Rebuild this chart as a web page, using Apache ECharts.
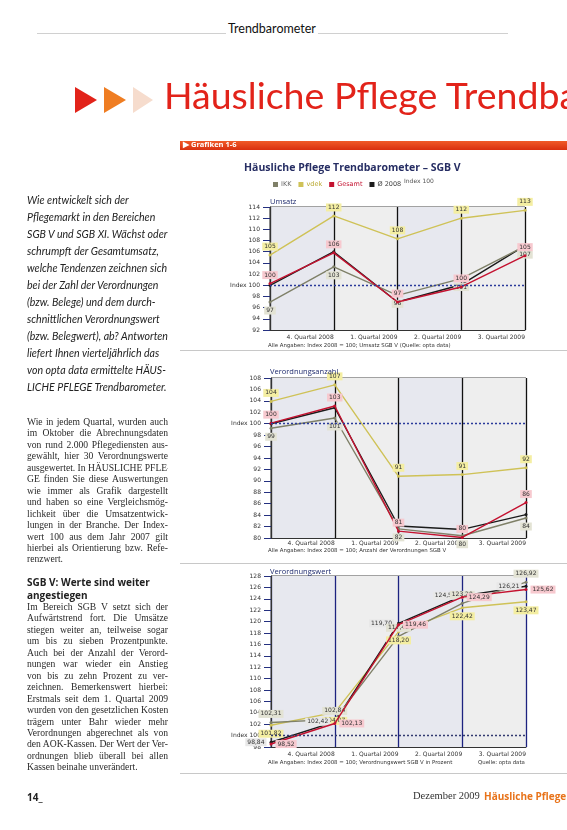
<!DOCTYPE html>
<html><head><meta charset="utf-8">
<script src="https://cdn.jsdelivr.net/npm/echarts/dist/echarts.min.js"></script>
<style>
html,body{margin:0;padding:0;background:#fff;}
#page{position:relative;width:567px;height:830px;overflow:hidden;background:#fff;}
#chart{position:absolute;left:0;top:0;width:567px;height:830px;z-index:1;}
.t{position:absolute;z-index:2;white-space:nowrap;}
.intro{position:absolute;z-index:2;left:27px;top:192px;font-family:Lato,'Open Sans',sans-serif;font-style:italic;font-size:10.6px;line-height:17px;color:#222;}
.body{position:absolute;z-index:2;left:27px;width:141px;font-family:'Liberation Serif','DejaVu Serif',serif;font-size:9.6px;line-height:11.45px;color:#2a2a2a;}
.body div{text-align:justify;text-align-last:justify;white-space:nowrap;overflow:hidden;}
.body div.last{text-align-last:left;}
.head{position:absolute;z-index:2;left:27px;top:576px;font-family:'Open Sans',sans-serif;font-weight:700;font-size:10px;line-height:12.5px;color:#222;}
.tri{position:absolute;z-index:2;width:0;height:0;border-top:13px solid transparent;border-bottom:13px solid transparent;}
.note{position:absolute;z-index:2;font-family:'DejaVu Sans',sans-serif;font-size:5.4px;color:#333;white-space:nowrap;}
.sub{position:absolute;z-index:2;font-family:'Open Sans',sans-serif;font-size:7.5px;color:#1f2b6e;white-space:nowrap;}
.sep{position:absolute;z-index:2;left:180px;width:387px;height:1px;background:#c8c8c8;}
</style></head>
<body>
<div id="page">
  <div id="chart"></div>

  <div class="t" style="left:37px;top:33px;width:471px;height:1px;background:#d0d0d0;"></div>
  <div class="t" style="left:226px;top:21px;font-family:Lato,sans-serif;font-size:12.5px;color:#111;background:#fff;padding:0 2px;">Trendbarometer</div>

  <div class="tri" style="left:75px;top:87px;border-left:22px solid #e2231a;"></div>
  <div class="tri" style="left:104px;top:87px;border-left:22px solid #ef7d22;"></div>
  <div class="tri" style="left:133px;top:87px;border-left:20px solid #f6dccd;"></div>
  <div class="t" style="left:164px;top:72px;font-family:Lato,sans-serif;font-size:37.5px;color:#e2231a;">Häusliche Pflege Trendbarometer</div>

  <div class="intro">Wie entwickelt sich der<br>Pflegemarkt in den Bereichen<br>SGB V und SGB XI. Wächst oder<br>schrumpft der Gesamtumsatz,<br>welche Tendenzen zeichnen sich<br>bei der Zahl der Verordnungen<br>(bzw. Belege) und dem durch-<br>schnittlichen Verordnungswert<br>(bzw. Belegwert), ab? Antworten<br>liefert Ihnen vierteljährlich das<br>von opta data ermittelte HÄUS-<br>LICHE PFLEGE Trendbarometer.</div>

  <div class="body" style="top:416px;">
    <div>Wie in jedem Quartal, wurden auch</div>
    <div>im Oktober die Abrechnungsdaten</div>
    <div>von rund 2.000 Pflegediensten aus-</div>
    <div>gewählt, hier 30 Verordnungswerte</div>
    <div>ausgewertet. In HÄUSLICHE PFLE-</div>
    <div>GE finden Sie diese Auswertungen</div>
    <div>wie immer als Grafik dargestellt</div>
    <div>und haben so eine Vergleichsmög-</div>
    <div>lichkeit über die Umsatzentwick-</div>
    <div>lungen in der Branche. Der Index-</div>
    <div>wert 100 aus dem Jahr 2007 gilt</div>
    <div>hierbei als Orientierung bzw. Refe-</div>
    <div class="last">renzwert.</div>
  </div>

  <div class="head">SGB V: Werte sind weiter<br>angestiegen</div>

  <div class="body" style="top:601px;">
    <div>Im Bereich SGB V setzt sich der</div>
    <div>Aufwärtstrend fort. Die Umsätze</div>
    <div>stiegen weiter an, teilweise sogar</div>
    <div>um bis zu sieben Prozentpunkte.</div>
    <div>Auch bei der Anzahl der Verord-</div>
    <div>nungen war wieder ein Anstieg</div>
    <div>von bis zu zehn Prozent zu ver-</div>
    <div>zeichnen. Bemerkenswert hierbei:</div>
    <div>Erstmals seit dem 1. Quartal 2009</div>
    <div>wurden von den gesetzlichen Kosten-</div>
    <div>trägern unter Bahr wieder mehr</div>
    <div>Verordnungen abgerechnet als von</div>
    <div>den AOK-Kassen. Der Wert der Ver-</div>
    <div>ordnungen blieb überall bei allen</div>
    <div class="last">Kassen beinahe unverändert.</div>
  </div>

  <div class="t" style="left:27px;top:790px;font-family:'Open Sans',sans-serif;font-weight:700;font-size:10px;color:#222;">14_</div>
  <div class="t" style="left:413px;top:790px;font-family:'Liberation Serif',serif;font-size:10.5px;color:#333;">Dezember 2009</div>
  <div class="t" style="left:484px;top:789px;font-family:'Open Sans',sans-serif;font-weight:700;font-size:10px;color:#e8731a;">Häusliche Pflege</div>

  <!-- chart panel -->
  <div class="t" style="left:180px;top:141px;width:387px;height:9px;background:linear-gradient(#f05a28,#d9300f);"></div>
  <div class="t" style="left:183px;top:139px;font-family:'Open Sans',sans-serif;font-weight:700;font-size:7.5px;color:#fff;">▶ Grafiken 1-6</div>
  <div class="t" style="left:244px;top:160px;font-family:'Open Sans',sans-serif;font-weight:700;font-size:10.5px;color:#262d63;">Häusliche Pflege Trendbarometer – SGB V</div>
  <div class="note" style="left:404px;top:177px;font-size:6px;color:#555;">Index 100</div>

  <div class="sub" style="left:270px;top:196px;">Umsatz</div>
  <div class="note" style="left:268px;top:342px;">Alle Angaben: Index 2008 = 100; Umsatz SGB V (Quelle: opta data)</div>
  <div class="sep" style="top:350px;"></div>

  <div class="sub" style="left:270px;top:366px;">Verordnungsanzahl</div>
  <div class="note" style="left:268px;top:547px;">Alle Angaben: Index 2008 = 100; Anzahl der Verordnungen SGB V</div>
  <div class="sep" style="top:563px;"></div>

  <div class="sub" style="left:270px;top:566px;">Verordnungswert</div>
  <div class="note" style="left:268px;top:759px;">Alle Angaben: Index 2008 = 100; Verordnungswert SGB V in Prozent</div>
  <div class="note" style="left:478px;top:759px;">Quelle: opta data</div>
  <div class="sep" style="top:773px;"></div>
</div>

<script>
// categories
const quarters = ['', '4. Quartal 2008', '1. Quartal 2009', '2. Quartal 2009', '3. Quartal 2009'];
const seriesNames = ['IKK', 'vdek', 'Gesamt', 'Ø 2008'];

// Umsatz (Index 2008 = 100)
const umsatzIKK    = [97.0, 103.3, 98.2, 101.2, 107.0];
const umsatzVdek   = [105.4, 112.4, 108.3, 112.0, 113.4];
const umsatzGesamt = [100.3, 105.8, 97.0, 99.7, 105.3];
const umsatzOe     = [100.0, 106.0, 97.0, 100.1, 107.1];

// Verordnungsanzahl
const anzahlIKK    = [99.2, 101.0, 81.6, 80.4, 83.5];
const anzahlVdek   = [103.9, 106.8, 90.8, 91.1, 92.3];
const anzahlGesamt = [100.1, 103.1, 81.2, 80.1, 86.2];
const anzahlOe     = [100.0, 102.8, 82.1, 81.5, 84.1];

// Verordnungswert
const wertIKK    = [102.31, 102.84, 117.42, 123.20, 126.92];
const wertVdek   = [101.82, 104.07, 118.20, 122.42, 123.47];
const wertGesamt = [98.52, 102.13, 119.46, 124.29, 125.62];
const wertOe     = [98.84, 102.42, 119.70, 124.52, 126.21];

// y axis ranges
const yRanges = [[92, 114], [80, 108], [98, 128]];

const colors = {IKK:'#7f8068', vdek:'#cfc257', Gesamt:'#c41230', 'Ø 2008':'#1b1b1b'};
const labelBg = {IKK:'#e3e3d4', vdek:'#f4eea2', Gesamt:'#f7c9cf', 'Ø 2008':'#e8e8e8'};

const chart = echarts.init(document.getElementById('chart'), null, {renderer:'canvas'});

const grids = [
  {left:270, top:207, width:255, height:123},
  {left:271, top:378, width:255, height:160},
  {left:271, top:576, width:255, height:171}
];
const splitColors = ['#111', '#111', '#1d2380'];

const fInt = v => String(Math.round(v));
const fDec = v => v.toFixed(2).replace('.', ',');

function mk(g, name, data, pos, fmt, withMark) {
  const s = {
    type:'line', name, xAxisIndex:g, yAxisIndex:g, data,
    symbol:'circle', symbolSize:3, showSymbol:true, animation:false,
    lineStyle:{color:colors[name], width:1.4}, itemStyle:{color:colors[name]},
    z: name === 'Gesamt' ? 4 : 3,
    label:{show:!!pos, position:pos || 'top', fontSize:6, color:'#333', fontFamily:'DejaVu Sans',
      backgroundColor:labelBg[name], padding:[1,2], distance:3,
      formatter:p => fmt(p.value)}
  };
  if (withMark) {
    s.markLine = {silent:true, symbol:'none', animation:false, label:{show:false},
      lineStyle:{color:g === 2 ? '#333a70' : '#2a3a9a', type:[2,2], width:1.4},
      data:[{yAxis:100}]};
  }
  return s;
}

const option = {
  backgroundColor:'transparent',
  textStyle:{fontFamily:'DejaVu Sans'},
  legend:{left:268, top:176, itemWidth:5, itemHeight:5, itemGap:7, icon:'rect',
    textStyle:{fontSize:6.5, color:'#444', padding:[0,0,0,-2]},
    data:[
      {name:'IKK', textStyle:{color:'#666'}},
      {name:'vdek', textStyle:{color:'#b9a830'}},
      {name:'Gesamt', textStyle:{color:'#c41230'}},
      {name:'Ø 2008', textStyle:{color:'#444'}}
    ]},
  grid: grids.map(g => Object.assign({show:true, backgroundColor:'#ececec', borderColor:'#444', borderWidth:1}, g)),
  xAxis: grids.map((g, i) => ({
    type:'category', gridIndex:i, data:quarters, boundaryGap:false,
    axisLine:{show:true, lineStyle:{color:'#333'}}, axisTick:{show:false},
    axisLabel:{fontSize:6, color:'#333', align:'right', margin:i === 1 ? 2 : 4, interval:0},
    splitLine:{show:true, lineStyle:{color:splitColors[i], width:1.3}},
    splitArea:{show:true, areaStyle:{color:['#e7e8ef', '#eeeeee']}}
  })),
  yAxis: yRanges.map((r, i) => ({
    type:'value', gridIndex:i, min:r[0], max:r[1], interval:2,
    axisLine:{show:true, lineStyle:{color:'#333'}},
    axisTick:{show:true, length:7, lineStyle:{color:'#243080', width:1}},
    axisLabel:{fontSize:6, color:'#333', margin:10, formatter:v => v === 100 ? 'Index 100' : String(v)},
    splitLine:{show:false}
  })),
  series:[
    mk(0, 'vdek', umsatzVdek, 'top', fInt, true),
    mk(0, 'Gesamt', umsatzGesamt, 'top', fInt),
    mk(0, 'Ø 2008', umsatzOe, null, fInt),
    mk(0, 'IKK', umsatzIKK, 'bottom', fInt),

    mk(1, 'vdek', anzahlVdek, 'top', fInt, true),
    mk(1, 'Gesamt', anzahlGesamt, 'top', fInt),
    mk(1, 'Ø 2008', anzahlOe, null, fInt),
    mk(1, 'IKK', anzahlIKK, 'bottom', fInt),

    mk(2, 'vdek', wertVdek, 'bottom', fDec, true),
    mk(2, 'Gesamt', wertGesamt, 'right', fDec),
    mk(2, 'Ø 2008', wertOe, 'left', fDec),
    mk(2, 'IKK', wertIKK, 'top', fDec)
  ]
};
chart.setOption(option);
</script>
</body></html>
